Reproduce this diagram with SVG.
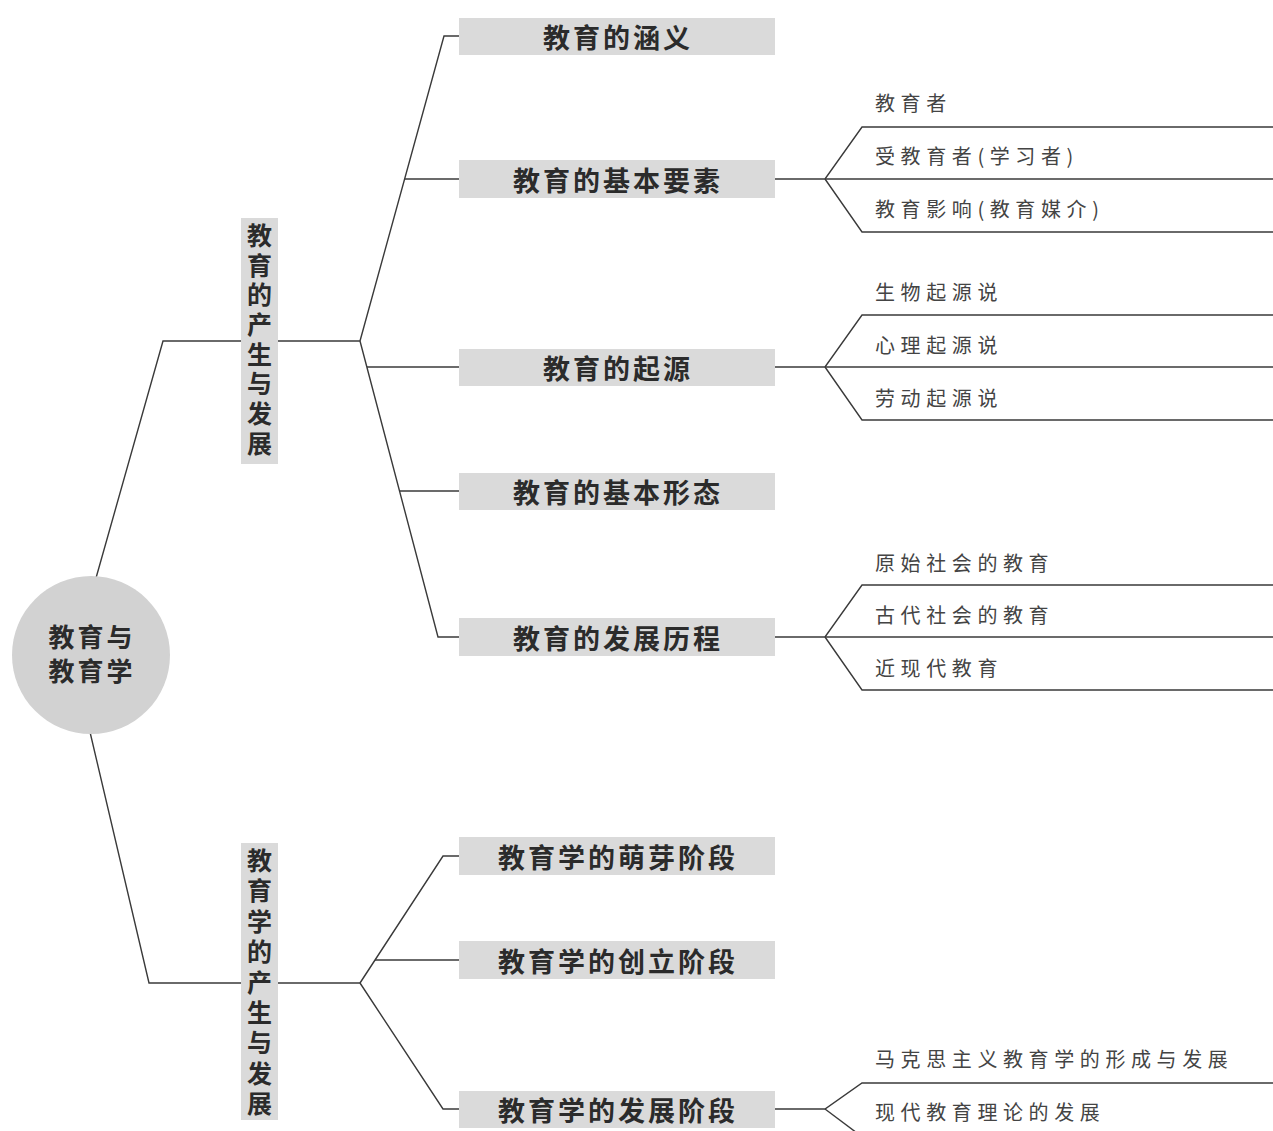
<svg xmlns="http://www.w3.org/2000/svg" width="1273" height="1131" viewBox="0 0 1273 1131">
<style>
.ln{fill:none;stroke:#3a3a3a;stroke-width:1.4}
.box{fill:#dadada}
.main{font-family:"Noto Sans CJK SC","Noto Sans",sans-serif;font-weight:700;font-size:27px;letter-spacing:3px;fill:#2b2b2b;text-anchor:middle;dominant-baseline:central}
.vert{font-family:"Noto Sans CJK SC","Noto Sans",sans-serif;font-weight:700;font-size:25px;fill:#2b2b2b;writing-mode:vertical-rl;text-orientation:upright}
.sub{font-family:"Noto Sans CJK SC","Noto Sans",sans-serif;font-weight:400;font-size:20px;letter-spacing:5.6px;fill:#444;dominant-baseline:central}
.root{font-family:"Noto Sans CJK SC","Noto Sans",sans-serif;font-weight:700;font-size:26px;letter-spacing:3px;fill:#2b2b2b;text-anchor:middle;dominant-baseline:central}
</style>
<rect width="1273" height="1131" fill="#ffffff"/>

<g id="connectors">
  <path class="ln" d="M96,578 L163,341 L360,341"/>
  <path class="ln" d="M90,732 L149,983 L360,983"/>
  <path class="ln" d="M360,341 L444,36 L459,36"/>
  <path class="ln" d="M404.6,179 L459,179"/>
  <path class="ln" d="M360,341 L438,637 L459,637"/>
  <path class="ln" d="M367,367 L459,367"/>
  <path class="ln" d="M399.5,491 L459,491"/>
  <path class="ln" d="M360,983 L443,856 L459,856"/>
  <path class="ln" d="M375,960 L459,960"/>
  <path class="ln" d="M360,983 L443,1109 L459,1109"/>
  <path class="ln" d="M775,179 L825,179 L862,127 L1273,127"/>
  <path class="ln" d="M825,179 L1273,179"/>
  <path class="ln" d="M825,179 L862,232 L1273,232"/>
  <path class="ln" d="M775,367 L825,367 L862,315 L1273,315"/>
  <path class="ln" d="M825,367 L1273,367"/>
  <path class="ln" d="M825,367 L862,420 L1273,420"/>
  <path class="ln" d="M775,637 L825,637 L862,585 L1273,585"/>
  <path class="ln" d="M825,637 L1273,637"/>
  <path class="ln" d="M825,637 L862,690 L1273,690"/>
  <path class="ln" d="M775,1109 L825,1109 L862,1083 L1273,1083"/>
  <path class="ln" d="M825,1109 L857,1133"/>
</g>

<g id="root">
  <circle cx="91" cy="655" r="79" fill="#d2d2d2"/>
  <text class="root" x="92" y="635">教育与</text>
  <text class="root" x="92" y="669">教育学</text>
</g>

<g id="n-jiaoyu-chansheng">
  <rect class="box" x="241" y="218" width="37" height="246"/>
  <text class="vert" x="259.5" y="223" style="letter-spacing:4.7px">教育的产生与发展</text>
</g>

<g id="n-jiaoyuxue-chansheng">
  <rect class="box" x="241" y="843" width="37" height="277"/>
  <text class="vert" x="259.5" y="848" style="letter-spacing:5.4px">教育学的产生与发展</text>
</g>

<g id="n-hanyi"><rect class="box" x="459" y="18" width="316" height="37"/><text class="main" x="618" y="36.5">教育的涵义</text></g>
<g id="n-yaosu"><rect class="box" x="459" y="160" width="316" height="38"/><text class="main" x="618" y="179">教育的基本要素</text></g>
<g id="n-qiyuan"><rect class="box" x="459" y="349" width="316" height="37"/><text class="main" x="618" y="367.5">教育的起源</text></g>
<g id="n-xingtai"><rect class="box" x="459" y="473" width="316" height="37"/><text class="main" x="618" y="491">教育的基本形态</text></g>
<g id="n-licheng"><rect class="box" x="459" y="618" width="316" height="38"/><text class="main" x="618" y="637">教育的发展历程</text></g>
<g id="n-mengya"><rect class="box" x="459" y="837" width="316" height="38"/><text class="main" x="618" y="856">教育学的萌芽阶段</text></g>
<g id="n-chuangli"><rect class="box" x="459" y="941" width="316" height="38"/><text class="main" x="618" y="960">教育学的创立阶段</text></g>
<g id="n-fazhan"><rect class="box" x="459" y="1091" width="316" height="37"/><text class="main" x="618" y="1109.5">教育学的发展阶段</text></g>

<g id="leaf-yaosu">
  <text class="sub" x="875" y="102">教育者</text>
  <text class="sub" x="875" y="155">受教育者(学习者)</text>
  <text class="sub" x="875" y="208">教育影响(教育媒介)</text>
</g>
<g id="leaf-qiyuan">
  <text class="sub" x="875" y="291">生物起源说</text>
  <text class="sub" x="875" y="344">心理起源说</text>
  <text class="sub" x="875" y="397">劳动起源说</text>
</g>
<g id="leaf-licheng">
  <text class="sub" x="875" y="562">原始社会的教育</text>
  <text class="sub" x="875" y="614">古代社会的教育</text>
  <text class="sub" x="875" y="667">近现代教育</text>
</g>
<g id="leaf-fazhan">
  <text class="sub" x="875" y="1058">马克思主义教育学的形成与发展</text>
  <text class="sub" x="875" y="1111">现代教育理论的发展</text>
</g>
</svg>
